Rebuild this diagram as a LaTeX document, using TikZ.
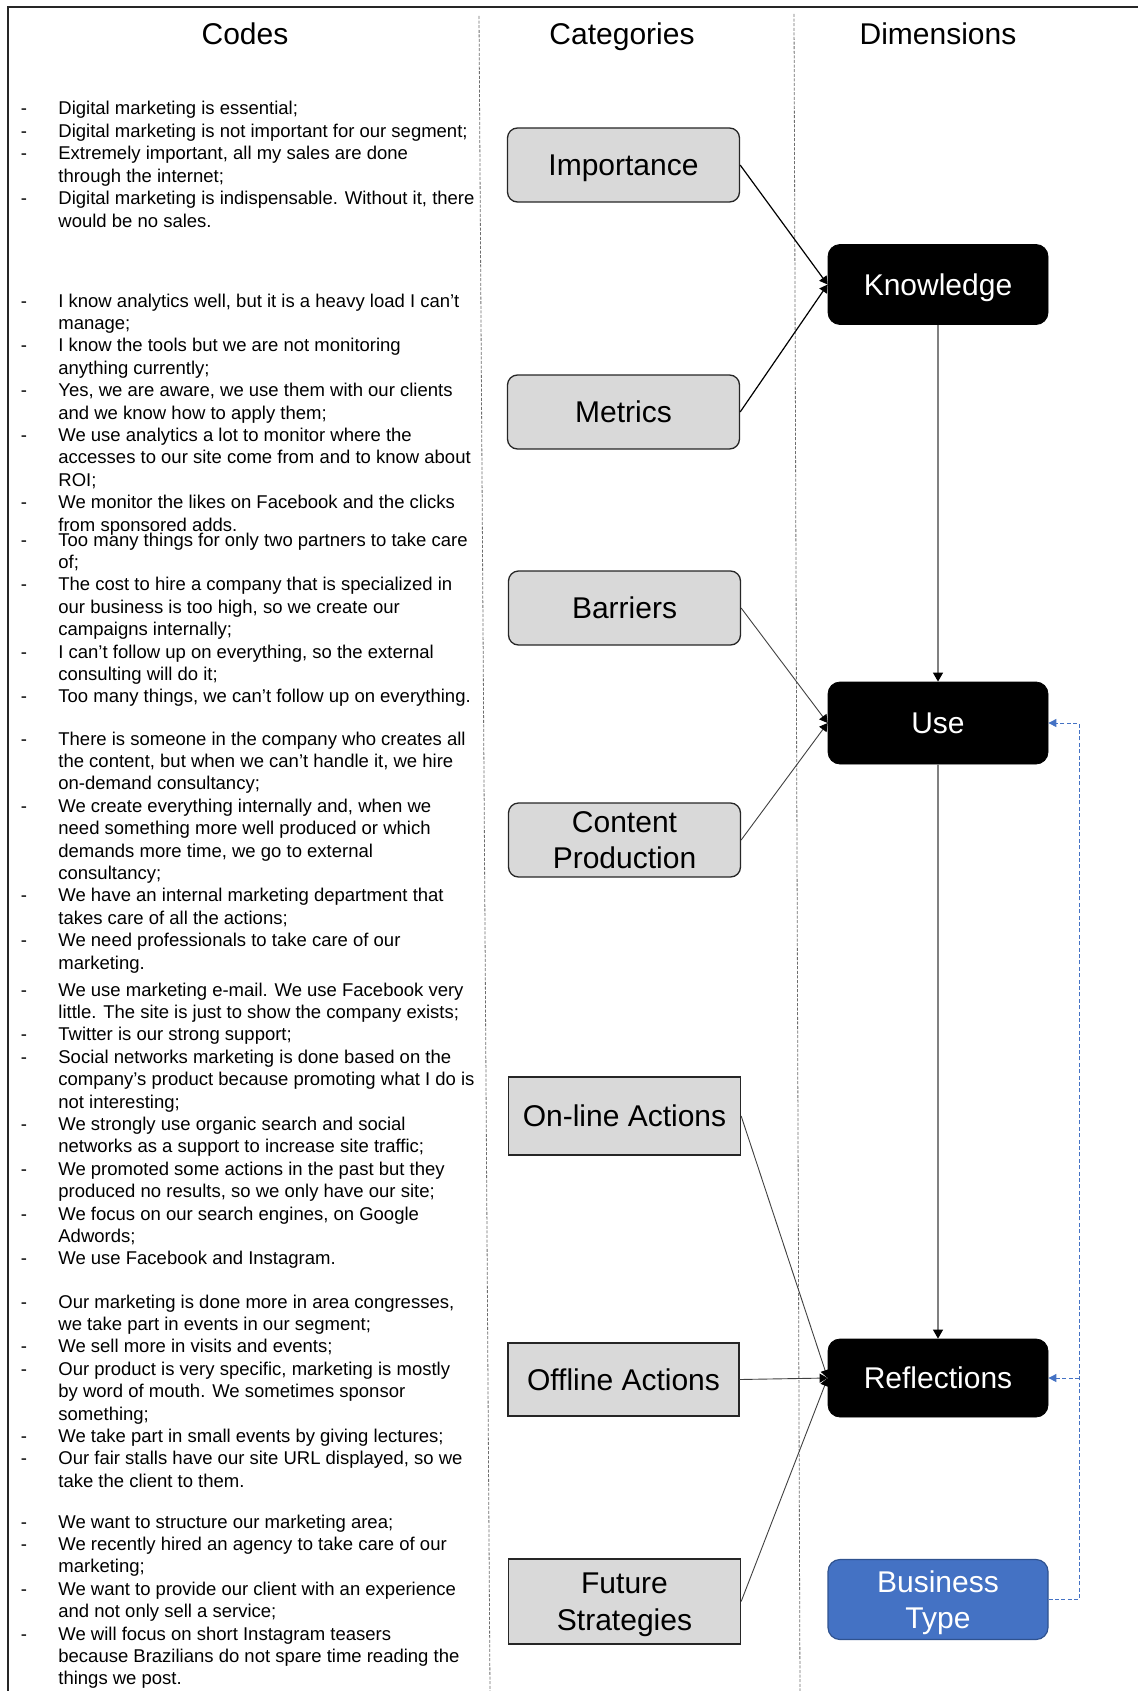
\documentclass[tikz,border=0pt]{standalone}
\usepackage{fontspec}
\setmainfont{Liberation Sans}
\usetikzlibrary{arrows.meta}
\definecolor{catgray}{RGB}{217,217,217}
\definecolor{edgedark}{RGB}{38,38,38}
\definecolor{bizblue}{RGB}{68,114,196}
\definecolor{bizedge}{RGB}{47,82,143}
\definecolor{linkgray}{RGB}{128,128,128}
\definecolor{sepgray}{RGB}{110,110,110}

\begin{document}
\begin{tikzpicture}[x=0.5pt,y=-0.5pt,
    catbox/.style={draw=edgedark, fill=catgray, line width=0.65pt, rounded corners=5pt,
      minimum width=116pt, minimum height=37pt, inner sep=0pt, align=center,
      font=\fontsize{15}{18.3}\selectfont},
    catsq/.style={catbox, sharp corners},
    dimbox/.style={draw=black, fill=black, text=white, rounded corners=6pt,
      minimum width=110pt, minimum height=40pt, inner sep=0pt, align=center,
      font=\fontsize{15}{18.3}\selectfont},
    bizbox/.style={dimbox, draw=bizedge, fill=bizblue, line width=0.6pt},
    oneline/.style={text height=12pt, text depth=1.2pt},
    twoline/.style={text depth=0pt},
    colhead/.style={anchor=base, font=\fontsize{15}{18}\selectfont},
    codeline/.style={anchor=base west, inner sep=0pt, font=\fontsize{9.25}{11}\selectfont},
    inarrow/.style={-{Triangle[length=4pt,width=4.5pt,color=black]}, line width=0.6pt},
    downarrow/.style={-{Triangle[length=4.5pt,width=5pt,color=black]}, draw=linkgray, line width=0.6pt},
    bizlink/.style={-{Triangle[length=4pt,width=4pt]}, draw=bizblue, line width=0.5pt, dash pattern=on 2pt off 1.2pt},
    colsep/.style={draw=sepgray, line width=0.4pt, dash pattern=on 1.5pt off 0.8pt}
  ]
    \useasboundingbox (0,0) rectangle (1138,1691);

    % frame and column separators
    \draw[edgedark, line width=1pt] (7.5,1691) -- (7.5,7.5) -- (1138,7.5);
    \draw[colsep] (479,16) -- (490,1691);
    \draw[colsep] (794,14) -- (800,1691);

    % column headers
    \node[colhead] (hcodes) at (245,45) {Codes};
    \node[colhead] (hcats) at (622,45) {Categories};
    \node[colhead] (hdims) at (938,45) {Dimensions};

    % codes: importance
    \foreach \d/\t [count=\i from 0] in {
        -/{Digital marketing is essential;},
        -/{Digital marketing is not important for our segment;},
        -/{Extremely important, all my sales are done},
        {}/{through the internet;},
        -/{Digital marketing is indispensable.  Without it, there},
        {}/{would be no sales.}}
        \node[codeline] (cimp\i) at (20.5,115+22.4*\i) {\makebox[18.75pt][l]{\d}\t};

    % codes: metrics
    \foreach \d/\t [count=\i from 0] in {
        -/{I know analytics well, but it is a heavy load I can’t},
        {}/{manage;},
        -/{I know the tools but we are not monitoring},
        {}/{anything currently;},
        -/{Yes, we are aware, we use them with our clients},
        {}/{and we know how to apply them;},
        -/{We use analytics a lot to monitor where the},
        {}/{accesses to our site come from and to know about},
        {}/{ROI;},
        -/{We monitor the likes on Facebook and the clicks},
        {}/{from sponsored adds.}}
        \node[codeline] (cmet\i) at (20.5,307+22.4*\i) {\makebox[18.75pt][l]{\d}\t};

    % codes: barriers
    \foreach \d/\t [count=\i from 0] in {
        -/{Too many things for only two partners to take care},
        {}/{of;},
        -/{The cost to hire a company that is specialized in},
        {}/{our business is too high, so we create our},
        {}/{campaigns internally;},
        -/{I can’t follow up on everything, so the external},
        {}/{consulting will do it;},
        -/{Too many things, we can’t follow up on everything.}}
        \node[codeline] (cbar\i) at (20.5,546+22.4*\i) {\makebox[18.75pt][l]{\d}\t};

    % codes: content production
    \foreach \d/\t [count=\i from 0] in {
        -/{There is someone in the company who creates all},
        {}/{the content, but when we can’t handle it, we hire},
        {}/{on-demand consultancy;},
        -/{We create everything internally and, when we},
        {}/{need something more well produced or which},
        {}/{demands more time, we go to external},
        {}/{consultancy;},
        -/{We have an internal marketing department that},
        {}/{takes care of all the actions;},
        -/{We need professionals to take care of our},
        {}/{marketing.}}
        \node[codeline] (ccon\i) at (20.5,745+22.4*\i) {\makebox[18.75pt][l]{\d}\t};

    % codes: on-line actions
    \foreach \d/\t [count=\i from 0] in {
        -/{We use marketing e-mail.  We use Facebook very},
        {}/{little.  The site is just to show the company exists;},
        -/{Twitter is our strong support;},
        -/{Social networks marketing is done based on the},
        {}/{company’s product because promoting what I do is},
        {}/{not interesting;},
        -/{We strongly use organic search and social},
        {}/{networks as a support to increase site traffic;},
        -/{We promoted some actions in the past but they},
        {}/{produced no results, so we only have our site;},
        -/{We focus on our search engines, on Google},
        {}/{Adwords;},
        -/{We use Facebook and Instagram.}}
        \node[codeline] (conl\i) at (20.5,996+22.4*\i) {\makebox[18.75pt][l]{\d}\t};

    % codes: offline actions
    \foreach \d/\t [count=\i from 0] in {
        -/{Our marketing is done more in area congresses,},
        {}/{we take part in events in our segment;},
        -/{We sell more in visits and events;},
        -/{Our product is very specific, marketing is mostly},
        {}/{by word of mouth.  We sometimes sponsor},
        {}/{something;},
        -/{We take part in small events by giving lectures;},
        -/{Our fair stalls have our site URL displayed, so we},
        {}/{take the client to them.}}
        \node[codeline] (coff\i) at (20.5,1308+22.4*\i) {\makebox[18.75pt][l]{\d}\t};

    % codes: future strategies
    \foreach \d/\t [count=\i from 0] in {
        -/{We want to structure our marketing area;},
        -/{We recently hired an agency to take care of our},
        {}/{marketing;},
        -/{We want to provide our client with an experience},
        {}/{and not only sell a service;},
        -/{We will focus on short Instagram teasers},
        {}/{because Brazilians do not spare time reading the},
        {}/{things we post.}}
        \node[codeline] (cfut\i) at (20.5,1528+22.4*\i) {\makebox[18.75pt][l]{\d}\t};

    % categories
    \node[catbox, oneline] (imp) at (623.5,165) {Importance};
    \node[catbox, oneline] (met) at (623.5,412) {Metrics};
    \node[catbox, oneline] (bar) at (624.5,608) {Barriers};
    \node[catbox, twoline] (con) at (624.5,840) {Content\\Production};
    \node[catsq, oneline, minimum height=39pt] (onl) at (624.5,1116) {On-line Actions};
    \node[catsq, oneline, minimum width=115.5pt, minimum height=36.5pt] (off) at (623.5,1379.5) {Offline Actions};
    \node[catsq, twoline, minimum height=42.5pt] (fut) at (624.5,1601.5) {Future\\Strategies};

    % dimensions
    \node[dimbox, oneline] (kno) at (938,284.5) {Knowledge};
    \node[dimbox, oneline, minimum height=41pt] (use) at (938,723) {Use};
    \node[dimbox, oneline, minimum height=39pt] (ref) at (938,1378) {Reflections};
    \node[bizbox, twoline] (biz) at (938,1599.5) {Business\\Type};

    % links
    \draw[inarrow] (imp.east) -- (kno.west);
    \draw[inarrow] (met.east) -- (kno.west);
    \draw[inarrow, draw=darkgray, line width=0.45pt] (bar.east) -- (use.west);
    \draw[inarrow, draw=darkgray, line width=0.45pt] (con.east) -- (use.west);
    \draw[inarrow, draw=darkgray, line width=0.45pt] (onl.east) -- (ref.west);
    \draw[inarrow, draw=darkgray, line width=0.45pt] (off.east) -- (ref.west);
    \draw[inarrow, draw=darkgray, line width=0.45pt] (fut.east) -- (ref.west);
    \draw[downarrow] (kno.south) -- (use.north);
    \draw[downarrow] (use.south) -- (ref.north);

    % business type feedback
    \coordinate (rail) at (1079,723);
    \coordinate (railref) at (rail |- ref.east);
    \draw[bizlink] (biz.east) -| (rail) -- (use.east);
    \draw[bizlink] (railref) -- (ref.east);
\end{tikzpicture}
\end{document}
